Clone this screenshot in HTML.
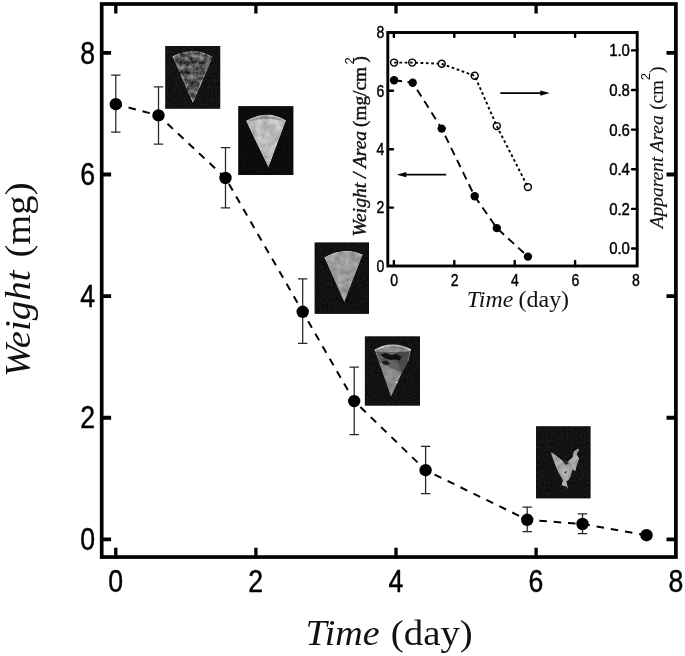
<!DOCTYPE html>
<html>
<head>
<meta charset="utf-8">
<title>Weight vs Time</title>
<style>
  html, body { margin: 0; padding: 0; background: #ffffff; }
  body { width: 685px; height: 656px; overflow: hidden; font-family: "Liberation Sans", sans-serif; }
  svg { display: block; will-change: transform; opacity: 0.9999; }
  .sans { font-family: "Liberation Sans", sans-serif; fill: #000; }
  .serif { font-family: "Liberation Serif", serif; fill: #111; }
  .it { font-style: italic; }
</style>
</head>
<body>
<svg width="685" height="656" viewBox="0 0 685 656">
  <defs>
    <filter id="soft" x="-10%" y="-10%" width="120%" height="120%" color-interpolation-filters="sRGB">
      <feGaussianBlur stdDeviation="0.55"/>
    </filter>
    <filter id="bgtex" x="0" y="0" width="100%" height="100%" color-interpolation-filters="sRGB">
      <feTurbulence type="fractalNoise" baseFrequency="0.45" numOctaves="2" seed="5" result="t"/>
      <feColorMatrix in="t" type="matrix" values="1 0 0 0 0  1 0 0 0 0  1 0 0 0 0  0 0 0 0 1" result="n"/>
      <feComposite in="SourceGraphic" in2="n" operator="arithmetic" k1="1.5" k2="0.15" k3="0" k4="0" result="m"/>
      <feComposite in="m" in2="SourceGraphic" operator="in"/>
    </filter>
    <filter id="wtex" x="-5%" y="-5%" width="110%" height="110%" color-interpolation-filters="sRGB">
      <feTurbulence type="fractalNoise" baseFrequency="0.2" numOctaves="3" seed="11" result="t"/>
      <feColorMatrix in="t" type="matrix" values="1 0 0 0 0  1 0 0 0 0  1 0 0 0 0  0 0 0 0 1" result="n"/>
      <feComposite in="SourceGraphic" in2="n" operator="arithmetic" k1="2.2" k2="-0.2" k3="0" k4="0" result="m"/>
      <feComposite in="m" in2="SourceGraphic" operator="in" result="c"/>
      <feGaussianBlur in="c" stdDeviation="0.5"/>
    </filter>
    <filter id="wtex2" x="-5%" y="-5%" width="110%" height="110%" color-interpolation-filters="sRGB">
      <feTurbulence type="fractalNoise" baseFrequency="0.16" numOctaves="2" seed="23" result="t"/>
      <feColorMatrix in="t" type="matrix" values="1 0 0 0 0  1 0 0 0 0  1 0 0 0 0  0 0 0 0 1" result="n"/>
      <feComposite in="SourceGraphic" in2="n" operator="arithmetic" k1="0.45" k2="0.78" k3="0" k4="0" result="m"/>
      <feComposite in="m" in2="SourceGraphic" operator="in" result="c"/>
      <feGaussianBlur in="c" stdDeviation="0.55"/>
    </filter>
  </defs>
  <rect x="0" y="0" width="685" height="656" fill="#ffffff"/>
  <rect x="101.7" y="4" width="574.2" height="553.05" fill="none" stroke="#000" stroke-width="3.7"/>
  <path d="M115.8 557.05V547.65 M115.8 4V13.4 M255.9 557.05V547.65 M255.9 4V13.4 M396 557.05V547.65 M396 4V13.4 M536.1 557.05V547.65 M536.1 4V13.4 " stroke="#000" stroke-width="3.3" fill="none"/>
  <path d="M101.7 539.4H111.1 M675.9 539.4H666.5 M101.7 417.78H111.1 M675.9 417.78H666.5 M101.7 296.16H111.1 M675.9 296.16H666.5 M101.7 174.54H111.1 M675.9 174.54H666.5 M101.7 52.92H111.1 M675.9 52.92H666.5 " stroke="#000" stroke-width="3.9" fill="none"/>
  <g class="sans" font-size="31" stroke="#000" stroke-width="0.45">
    <text transform="translate(95.2 550.1) scale(0.86 1)" text-anchor="end">0</text>
    <text transform="translate(95.2 428.48) scale(0.86 1)" text-anchor="end">2</text>
    <text transform="translate(95.2 306.86) scale(0.86 1)" text-anchor="end">4</text>
    <text transform="translate(95.2 185.24) scale(0.86 1)" text-anchor="end">6</text>
    <text transform="translate(95.2 63.62) scale(0.86 1)" text-anchor="end">8</text>
    <text transform="translate(115.6 591.7) scale(0.86 1)" text-anchor="middle">0</text>
    <text transform="translate(255.7 591.7) scale(0.86 1)" text-anchor="middle">2</text>
    <text transform="translate(395.8 591.7) scale(0.86 1)" text-anchor="middle">4</text>
    <text transform="translate(535.9 591.7) scale(0.86 1)" text-anchor="middle">6</text>
    <text transform="translate(676 591.7) scale(0.86 1)" text-anchor="middle">8</text>
  </g>
  <g class="serif" font-size="36">
    <text x="305.6" y="644.6" class="it" textLength="74" lengthAdjust="spacingAndGlyphs">Time</text>
    <text x="390.8" y="644.6" textLength="82" lengthAdjust="spacingAndGlyphs">(day)</text>
    <g transform="translate(30.2 377) rotate(-90)">
      <text x="0" y="0" class="it" textLength="106.5" lengthAdjust="spacingAndGlyphs">Weight</text>
      <text x="119.5" y="0" textLength="75" lengthAdjust="spacingAndGlyphs">(mg)</text>
    </g>
  </g>
  <g>
    <!-- photo backgrounds -->
    <g filter="url(#bgtex)">
      <rect x="165.2" y="46" width="55.2" height="62.8" fill="#151515"/>
      <rect x="238.2" y="106.1" width="55.3" height="69" fill="#0d0d0d"/>
      <rect x="314.5" y="242.4" width="54.6" height="71.5" fill="#131313"/>
      <rect x="364.7" y="336.3" width="55.3" height="69.4" fill="#141414"/>
      <rect x="535.9" y="426.2" width="54.7" height="72.3" fill="#151515"/>
    </g>
    <!-- photo 1 -->
    <g filter="url(#wtex)">
      <path d="M173 56.6 Q192.5 46.5 212.2 57 L193 102 Z" fill="#5e5e5e" stroke="#8e8e8e" stroke-width="1.2"/>
    </g>
    <!-- photo 2 -->
    <g filter="url(#wtex2)">
      <path d="M245.8 120.8 Q266.5 108.6 286.2 120.2 L268.4 167.8 Z" fill="#bababa"/>
      <path d="M249 121.3 Q266.5 111.5 283.5 120.8 Q266 116.5 249 121.3Z" fill="#8a8a8a"/>
    </g>
    <!-- photo 3 -->
    <g filter="url(#wtex2)">
      <path d="M324.4 257.8 Q345 246.5 362.6 255.2 L344.3 302.6 Z" fill="#9b9b9b"/>
      <path d="M324.4 257.8 Q345 246.5 362.6 255.2" fill="none" stroke="#bcbcbc" stroke-width="1.3"/>
    </g>
    <!-- photo 4 -->
    <g filter="url(#wtex2)">
      <path d="M374.6 350.2 Q392.5 340 411 350 L409 360 L402 373 L391 397 Z" fill="#8a8a8a"/>
      <path d="M376.5 351.9 L409 351.9 L407.1 366.3 L402.1 372.5 L379 362.5 Z" fill="#3c3c3c" opacity="0.55"/>
      <path d="M397 352 L410 351 L408.5 361 L402 372.5 L398 364 Z" fill="#2c2c2c" opacity="0.45"/>
      <path d="M374.6 350.2 Q392.5 340 411 350" fill="none" stroke="#c2c2c2" stroke-width="1.7"/>
      <path d="M380.3 354.4 L385.9 353.1 L391.5 355 L396.5 353.8 L401.5 356.9 L399.6 360.6 L395.3 359.4 L390.3 360 L384.6 358.1 Z" fill="#111"/>
      <path d="M382.1 361.3 L387.1 360.6 L390.3 363.8 L385.9 365.3 L382.8 363.8 Z" fill="#1c1c1c"/>
      <circle cx="396.8" cy="382.3" r="0.9" fill="#f4f4f4"/>
    </g>
    <!-- photo 5 -->
    <g filter="url(#wtex2)">
      <path d="M550.5 452 L553.7 453.6 L560.1 458.4 L564 461.7 L568.4 461 L572.3 457.2 L573.6 451.4 L578 448.2 L579.3 450.1 L576.8 454 L579.3 458.4 L576.8 466.1 L575.5 471.3 L572.3 470 L571 476.4 L568.4 480.2 L566.5 481.5 L568.4 489.8 L565.9 486.6 L561.4 485.4 L562.7 480.2 L557.6 471.3 L553.1 459.7 Z" fill="#a6a6a6"/>
      <path d="M563 462 L566 465 L569 463 L567 460.5Z M564 472 L567 471 L566 474Z" fill="#2a2a2a"/>
    </g>
  </g>
  <polyline points="115.8,104.2 158.5,115.4 225.5,178 302.7,311.8 354.2,401.1 425.6,470.2 527.2,519.8 582.5,524 646.5,535.2" fill="none" stroke="#000" stroke-width="2" stroke-dasharray="7.5 6.9" stroke-dashoffset="1.2"/>
  <path d="M115.8 75V132 M111.1 75H120.5 M111.1 132H120.5 M158.5 86.8V144 M153.8 86.8H163.2 M153.8 144H163.2 M225.5 147.5V207.8 M220.8 147.5H230.2 M220.8 207.8H230.2 M302.7 278.8V343.3 M298 278.8H307.4 M298 343.3H307.4 M354.2 367.1V434.6 M349.5 367.1H358.9 M349.5 434.6H358.9 M425.6 446.4V493.5 M420.9 446.4H430.3 M420.9 493.5H430.3 M527.2 507V531.5 M522.5 507H531.9 M522.5 531.5H531.9 M582.5 513.9V533.7 M577.8 513.9H587.2 M577.8 533.7H587.2 " stroke="#262626" stroke-width="1.25" fill="none"/>
  <g fill="#000"><circle cx="115.8" cy="104.2" r="6.2"/><circle cx="158.5" cy="115.4" r="6.2"/><circle cx="225.5" cy="178" r="6.2"/><circle cx="302.7" cy="311.8" r="6.2"/><circle cx="354.2" cy="401.1" r="6.2"/><circle cx="425.6" cy="470.2" r="6.2"/><circle cx="527.2" cy="519.8" r="6.2"/><circle cx="582.5" cy="524" r="6.2"/><circle cx="646.5" cy="535.2" r="6.2"/></g>
  <rect x="387.8" y="32.5" width="249.4" height="233.5" fill="none" stroke="#000" stroke-width="2.9"/>
  <path d="M393.9 266V261 M393.9 32.5V36.9 M454.3 266V261 M454.3 32.5V36.9 M514.7 266V261 M514.7 32.5V36.9 M575.1 266V261 M575.1 32.5V36.9 M387.8 207.6H393 M387.8 149.2H393 M387.8 90.8H393 M637.2 248.5H632 M637.2 208.88H632 M637.2 169.26H632 M637.2 129.64H632 M637.2 90.02H632 M637.2 50.4H632 " stroke="#000" stroke-width="2.4" stroke-linecap="round" fill="none"/>
  <g class="sans" font-size="16.5" stroke="#000" stroke-width="0.42">
    <text transform="translate(384.3 271.8) scale(0.85 1)" text-anchor="end">0</text>
    <text transform="translate(384.3 213.4) scale(0.85 1)" text-anchor="end">2</text>
    <text transform="translate(384.3 155) scale(0.85 1)" text-anchor="end">4</text>
    <text transform="translate(384.3 96.6) scale(0.85 1)" text-anchor="end">6</text>
    <text transform="translate(384.3 38.2) scale(0.85 1)" text-anchor="end">8</text>
    <text transform="translate(394.2 285.8) scale(0.85 1)" text-anchor="middle">0</text>
    <text transform="translate(454.6 285.8) scale(0.85 1)" text-anchor="middle">2</text>
    <text transform="translate(515 285.8) scale(0.85 1)" text-anchor="middle">4</text>
    <text transform="translate(575.4 285.8) scale(0.85 1)" text-anchor="middle">6</text>
    <text transform="translate(635.8 285.8) scale(0.85 1)" text-anchor="middle">8</text>
  </g>
  <g class="sans" font-size="16.8" stroke="#000" stroke-width="0.42">
    <text transform="translate(629.9 254.4) scale(0.89 1)" text-anchor="end">0.0</text>
    <text transform="translate(629.9 214.78) scale(0.89 1)" text-anchor="end">0.2</text>
    <text transform="translate(629.9 175.16) scale(0.89 1)" text-anchor="end">0.4</text>
    <text transform="translate(629.9 135.54) scale(0.89 1)" text-anchor="end">0.6</text>
    <text transform="translate(629.9 95.92) scale(0.89 1)" text-anchor="end">0.8</text>
    <text transform="translate(629.9 56.3) scale(0.89 1)" text-anchor="end">1.0</text>
  </g>
  <g class="serif" font-size="23.5">
    <text x="466.8" y="306.7" class="it" textLength="46.5" lengthAdjust="spacingAndGlyphs">Time</text>
    <text x="518.6" y="306.7" textLength="50.5" lengthAdjust="spacingAndGlyphs">(day)</text>
  </g>
  <g class="serif" font-size="19" stroke="#111" stroke-width="0.4">
    <g transform="translate(366.4 236.4) rotate(-90)">
      <text x="0" y="0" class="it" textLength="105.5" lengthAdjust="spacingAndGlyphs">Weight / Area</text>
      <text x="109.4" y="0" textLength="60" lengthAdjust="spacingAndGlyphs">(mg/cm</text>
      <text x="174" y="0">)</text>
    </g>
  </g>
  <g class="serif" font-size="19" stroke="#111" stroke-width="0.12">
    <g transform="translate(663.4 228.3) rotate(-90)">
      <text x="0" y="0" class="it" textLength="113" lengthAdjust="spacingAndGlyphs">Apparent Area</text>
      <text x="118.6" y="0">(cm</text>
      <text x="155.6" y="0">)</text>
    </g>
  </g>
  <g class="sans" font-size="13.3">
    <text transform="translate(353.7 64.5) rotate(-90)" x="0" y="0">2</text>
    <text transform="translate(650 80.3) rotate(-90)" x="0" y="0">2</text>
  </g>
  <polyline points="394.1,62.6 412.2,62.6 441.7,63.8 474.7,75.8 496.8,126.1 527.9,187.1" fill="none" stroke="#000" stroke-width="1.9" stroke-dasharray="2.7 2.6"/>
  <g fill="none" stroke="#000" stroke-width="1.45"><circle cx="394.1" cy="62.6" r="3.5"/><circle cx="412.2" cy="62.6" r="3.5"/><circle cx="441.7" cy="63.8" r="3.5"/><circle cx="474.7" cy="75.8" r="3.5"/><circle cx="496.8" cy="126.1" r="3.5"/><circle cx="527.9" cy="187.1" r="3.5"/></g>
  <polyline points="394.1,80.2 412.7,82.7 441.7,128.6 474.7,196.3 496.8,228.1 527.9,256.6" fill="none" stroke="#000" stroke-width="1.9" stroke-dasharray="8 5.5"/>
  <g fill="#000"><circle cx="394.1" cy="80.2" r="4.2"/><circle cx="412.7" cy="82.7" r="4.2"/><circle cx="441.7" cy="128.6" r="4.2"/><circle cx="474.7" cy="196.3" r="4.2"/><circle cx="496.8" cy="228.1" r="4.2"/><circle cx="527.9" cy="256.6" r="4.2"/></g>
  <g stroke="#000" stroke-width="1.8" fill="#000">
    <path d="M404 174.7H446.2" fill="none"/>
    <path d="M396.8 174.7L406.3 172.1V177.3Z" stroke="none"/>
    <path d="M500.3 93.1H542" fill="none"/>
    <path d="M549.8 93.1L540.3 90.5V95.7Z" stroke="none"/>
  </g>
</svg>
</body>
</html>
